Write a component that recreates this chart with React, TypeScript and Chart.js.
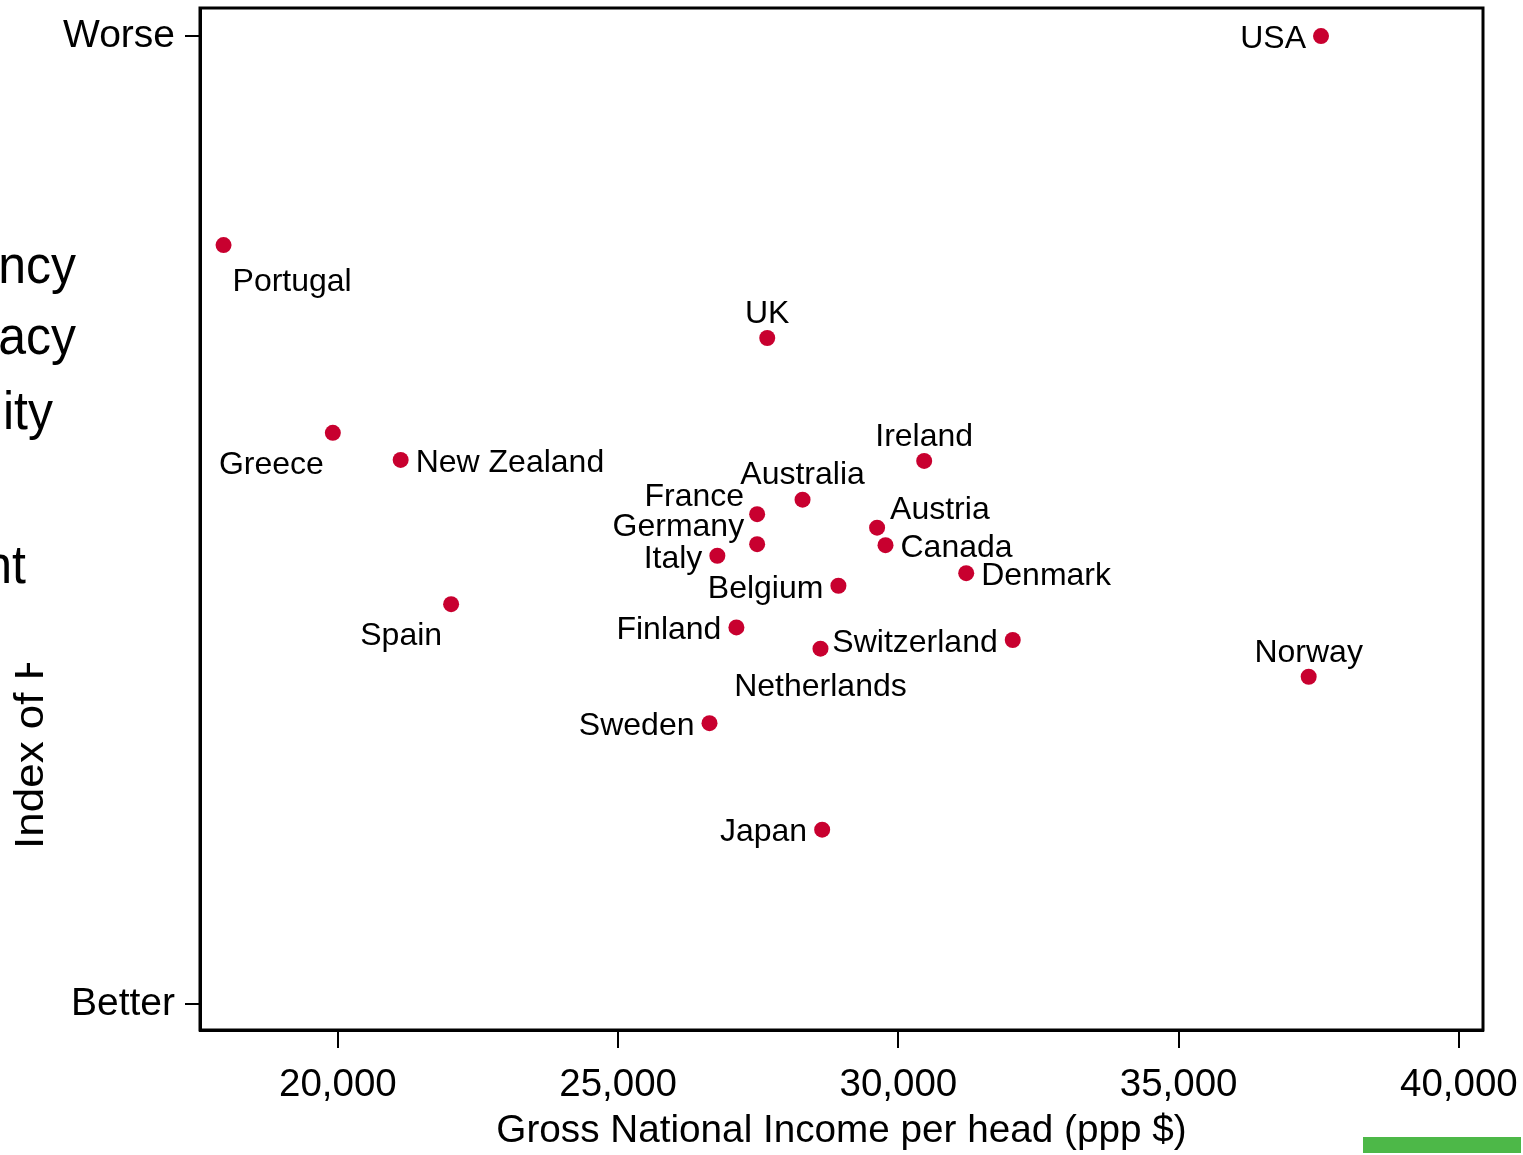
import React, { useEffect, useRef } from "react";
import { Chart, registerables } from "chart.js";

Chart.register(...registerables);

const countries = [
  "USA", "Portugal", "UK", "Greece", "New Zealand", "Ireland", "Australia",
  "France", "Germany", "Austria", "Canada", "Italy", "Denmark", "Belgium",
  "Spain", "Finland", "Switzerland", "Netherlands", "Norway", "Sweden", "Japan",
];
const incomePerHead = [
  37540, 17960, 27660, 19910, 21120, 30460, 28290,
  27480, 27480, 29620, 29770, 26770, 31210, 28930,
  22020, 27110, 32040, 28610, 37320, 26630, 28640,
];
const healthSocialIndex = [
  100, 78.4, 68.8, 59.0, 56.2, 56.1, 52.1,
  50.6, 47.5, 49.2, 47.4, 46.3, 44.5, 43.2,
  41.3, 38.9, 37.6, 36.7, 33.8, 29.0, 18.0,
];
const labelPlacement = [
  "left", "belowRight", "above", "belowLeft", "right", "above", "above",
  "leftUp", "leftUp", "rightUp", "right", "left", "right", "left",
  "belowLeft", "left", "left", "below", "above", "left", "left",
];
const xTickValues = [20000, 25000, 30000, 35000, 40000];
const yTickValues = [0, 100];
const yTickLabels = ["Better", "Worse"];
const xTitle = "Gross National Income per head (ppp $)";
const yTitle = "Index of Health and Social Problems";
const sideTextFragments = ["Life expectancy", "Math & Literacy", "Infant mortality", "Imprisonment"];

const FONT = "'Liberation Sans', Arial, Helvetica, sans-serif";
const DOT = "#C8002F";

function placementOffset(p: string) {
  switch (p) {
    case "left": return { dx: -15, dy: 3, align: "right" };
    case "right": return { dx: 15, dy: 3, align: "left" };
    case "above": return { dx: 0, dy: -24, align: "center" };
    case "below": return { dx: 0, dy: 38, align: "center" };
    case "belowRight": return { dx: 9, dy: 37, align: "left" };
    case "belowLeft": return { dx: -9, dy: 32, align: "right" };
    case "leftUp": return { dx: -13, dy: -17, align: "right" };
    case "rightUp": return { dx: 13, dy: -18, align: "left" };
    default: return { dx: 0, dy: 0, align: "center" };
  }
}

const labelPlugin = {
  id: "pointLabels",
  afterDatasetsDraw(chart: any) {
    const ctx = chart.ctx;
    const meta = chart.getDatasetMeta(0);
    ctx.save();
    ctx.font = `32px ${FONT}`;
    ctx.fillStyle = "#000";
    ctx.textBaseline = "middle";
    meta.data.forEach((el: any, i: number) => {
      const o = placementOffset(labelPlacement[i]);
      ctx.textAlign = o.align;
      ctx.fillText(countries[i], el.x + o.dx, el.y + o.dy);
    });
    ctx.restore();
  },
};

const framePlugin = {
  id: "frame",
  afterDraw(chart: any) {
    const { ctx, chartArea } = chart;
    ctx.save();
    ctx.strokeStyle = "#000";
    ctx.lineWidth = 3;
    ctx.strokeRect(chartArea.left, chartArea.top, chartArea.right - chartArea.left, chartArea.bottom - chartArea.top);
    ctx.restore();
  },
};

const decorPlugin = {
  id: "decor",
  beforeDraw(chart: any) {
    const ctx = chart.ctx;
    ctx.save();
    ctx.fillStyle = "#000";
    ctx.font = `50px ${FONT}`;
    ctx.textAlign = "right";
    ctx.textBaseline = "alphabetic";
    const rights = [76, 76, 53, 26];
    const bases = [283, 354, 429, 583];
    sideTextFragments.forEach((t, i) => {
      ctx.save();
      ctx.translate(rights[i], bases[i]);
      ctx.scale(1, 1.08);
      ctx.fillText(t, 0, 0);
      ctx.restore();
    });
    // rotated y title, partly hidden
    ctx.beginPath();
    ctx.rect(0, 663, 60, 400);
    ctx.clip();
    ctx.translate(43, 849);
    ctx.rotate(-Math.PI / 2);
    ctx.scale(1.1, 1);
    ctx.font = `40px ${FONT}`;
    ctx.textAlign = "left";
    ctx.fillText(yTitle, 0, 0);
    ctx.restore();
    ctx.save();
    ctx.fillStyle = "#4DB848";
    ctx.fillRect(1363, 1137, 158, 16);
    ctx.restore();
  },
};

export default function App() {
  const ref = useRef<HTMLCanvasElement>(null);
  useEffect(() => {
    document.body.style.margin = "0";
    const canvas = ref.current!;
    const chart = new Chart(canvas, {
      type: "scatter",
      data: {
        datasets: [
          {
            data: incomePerHead.map((x, i) => ({ x, y: healthSocialIndex[i] })),
            pointRadius: 8,
            pointHoverRadius: 8,
            backgroundColor: DOT,
            borderWidth: 0,
          },
        ],
      },
      options: {
        responsive: false,
        animation: false,
        events: [],
        layout: { padding: { top: 8, right: 40, left: 0, bottom: 0 } },
        plugins: { legend: { display: false }, tooltip: { enabled: false } },
        scales: {
          x: {
            type: "linear",
            min: 17540,
            max: 40430,
            afterBuildTicks: (s: any) => { s.ticks = xTickValues.map((v) => ({ value: v })); },
            afterFit: (s: any) => { s.height = 125; s.paddingLeft = 0; s.paddingRight = 0; },
            ticks: {
              autoSkip: false,
              maxRotation: 0,
              color: "#000",
              padding: 14,
              font: { family: FONT, size: 38.5 },
              callback: (v: any) => Number(v).toLocaleString("en-US"),
            },
            grid: { drawOnChartArea: false, drawTicks: true, tickLength: 18, color: "#000", lineWidth: 2 },
            border: { display: true, color: "#000", width: 3 },
            title: { display: true, text: xTitle, color: "#000", font: { family: FONT, size: 38.7 }, padding: 0 },
          },
          y: {
            type: "linear",
            min: -2.7,
            max: 102.9,
            afterBuildTicks: (s: any) => { s.ticks = yTickValues.map((v) => ({ value: v })); },
            afterFit: (s: any) => { s.width = 200; s.paddingTop = 0; s.paddingBottom = 0; },
            ticks: {
              autoSkip: false,
              color: "#000",
              padding: 10,
              font: { family: FONT, size: 39 },
              callback: (v: any) => yTickLabels[yTickValues.indexOf(Number(v))] ?? "",
            },
            grid: { drawOnChartArea: false, drawTicks: true, tickLength: 15, color: "#000", lineWidth: 2 },
            border: { display: true, color: "#000", width: 3 },
          },
        },
      } as any,
      plugins: [decorPlugin, labelPlugin, framePlugin],
    });
    return () => chart.destroy();
  }, []);
  return <canvas ref={ref} width={1523} height={1155} style={{ display: "block" }} />;
}
